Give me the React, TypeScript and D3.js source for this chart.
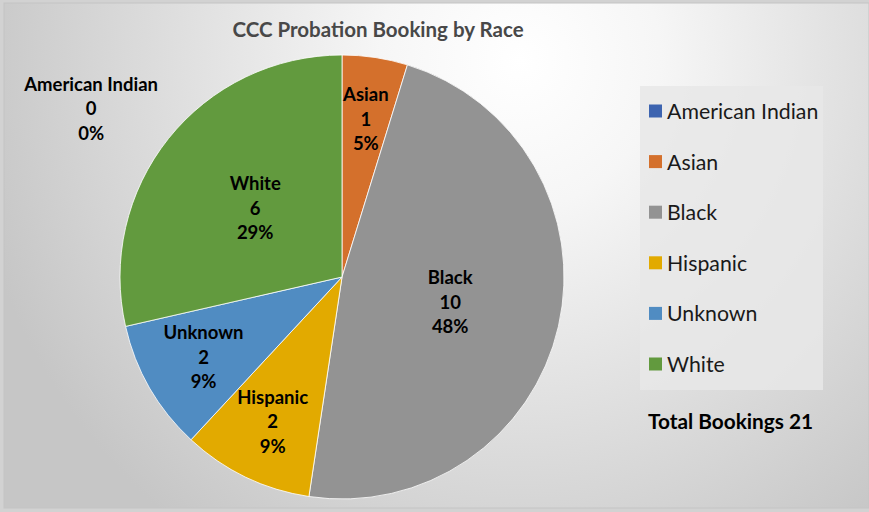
import React from 'react';
import * as d3 from 'd3';

const races = ['American Indian', 'Asian', 'Black', 'Hispanic', 'Unknown', 'White'];
const bookings = [0, 1, 10, 2, 2, 6];
const sliceColors = ['#3d64b0', '#d4702c', '#939393', '#e2aa00', '#508cc2', '#629a3e'];
const chartTitle = 'CCC Probation Booking by Race';

const W = 869;
const H = 512;
const FONT = 'Lato, "Noto Sans", sans-serif';

// whole percents that add up to 100 (largest remainder, like Excel does)
function roundedPercents(vals: number[]) {
  const total = d3.sum(vals);
  const raw = vals.map(v => (v / total) * 100);
  const out = raw.map(Math.floor);
  let left = 100 - d3.sum(out);
  const order = d3.range(vals.length).sort((a, b) => (raw[b] - out[b]) - (raw[a] - out[a]));
  for (const i of order) {
    if (left <= 0) break;
    if (vals[i] === 0) continue;
    out[i] += 1;
    left -= 1;
  }
  return out;
}

export default function App() {
  const cx = 342;
  const cy = 277;
  const radius = 222;
  const total = d3.sum(bookings);
  const percents = roundedPercents(bookings);

  const pie = d3.pie<number>().sort(null).value(d => d);
  const arcs = pie(bookings);
  const arc = d3.arc<d3.PieArcDatum<number>>().innerRadius(0).outerRadius(radius);

  // legend layout
  const legendX = 640;
  const legendY = 86;
  const legendW = 183;
  const legendH = 304;
  const rowY = d3.scalePoint<string>().domain(races).range([111, 364]);

  return (
    <svg
      width={W}
      height={H}
      style={{ position: 'absolute', left: 0, top: 0, fontFamily: FONT }}
    >
      <defs>
        <radialGradient id="bg" gradientUnits="userSpaceOnUse" cx={520} cy={60} r={560}
          gradientTransform="translate(520 60) scale(1 1.05) translate(-520 -60)">
          <stop offset="0" stopColor="#ffffff" />
          <stop offset="0.25" stopColor="#f6f6f6" />
          <stop offset="1" stopColor="#c6c6c6" />
        </radialGradient>
      </defs>
      <rect x={0} y={0} width={W} height={H} fill="#d2d2d2" />
      <rect x={4} y={3} width={W - 4} height={505} fill="url(#bg)" stroke="#c4c4c4" strokeWidth={1} />

      <text x={378} y={29} textAnchor="middle" dominantBaseline="central"
        fontSize={20.5} fontWeight={700} fill="#484848">
        {chartTitle}
      </text>

      <g transform={`translate(${cx},${cy})`}>
        {arcs.map((a, i) => (
          <path key={races[i]} d={arc(a) || ''} fill={sliceColors[i]} stroke="#ffffff" strokeWidth={0.8} />
        ))}
      </g>

      {arcs.map((a, i) => {
        const share = a.data / total;
        let x: number;
        let y: number;
        if (a.data === 0) {
          // zero slice: label sits outside, top-left of the pie
          x = cx - radius * 1.13;
          y = cy - radius * 0.76;
        } else {
          const mid = (a.startAngle + a.endAngle) / 2;
          const lr = share < 0.15 ? radius * 0.72 : radius * 0.5;
          x = cx + lr * Math.sin(mid);
          y = cy - lr * Math.cos(mid);
        }
        const lines = [races[i], String(a.data), `${percents[i]}%`];
        return (
          <text key={races[i]} x={x} y={y} textAnchor="middle" fontSize={18.5}
            fontWeight={700} fill="#000">
            {lines.map((t, j) => (
              <tspan key={j} x={x} y={y + (j - 1) * 24.5} dominantBaseline="central">{t}</tspan>
            ))}
          </text>
        );
      })}

      <rect x={legendX} y={legendY} width={legendW} height={legendH} fill="#e8e8e8" fillOpacity={0.85} />
      {races.map((r, i) => (
        <g key={r} transform={`translate(${legendX + 9},${rowY(r)})`}>
          <rect x={0} y={-6.5} width={13} height={13} fill={sliceColors[i]} />
          <text x={18} y={0} dominantBaseline="central" fontSize={21.3} fill="#1a1a1a">{r}</text>
        </g>
      ))}

      <text x={648} y={420} dominantBaseline="central" fontSize={20.8} fontWeight={700} fill="#000">
        {`Total Bookings ${total}`}
      </text>
    </svg>
  );
}
